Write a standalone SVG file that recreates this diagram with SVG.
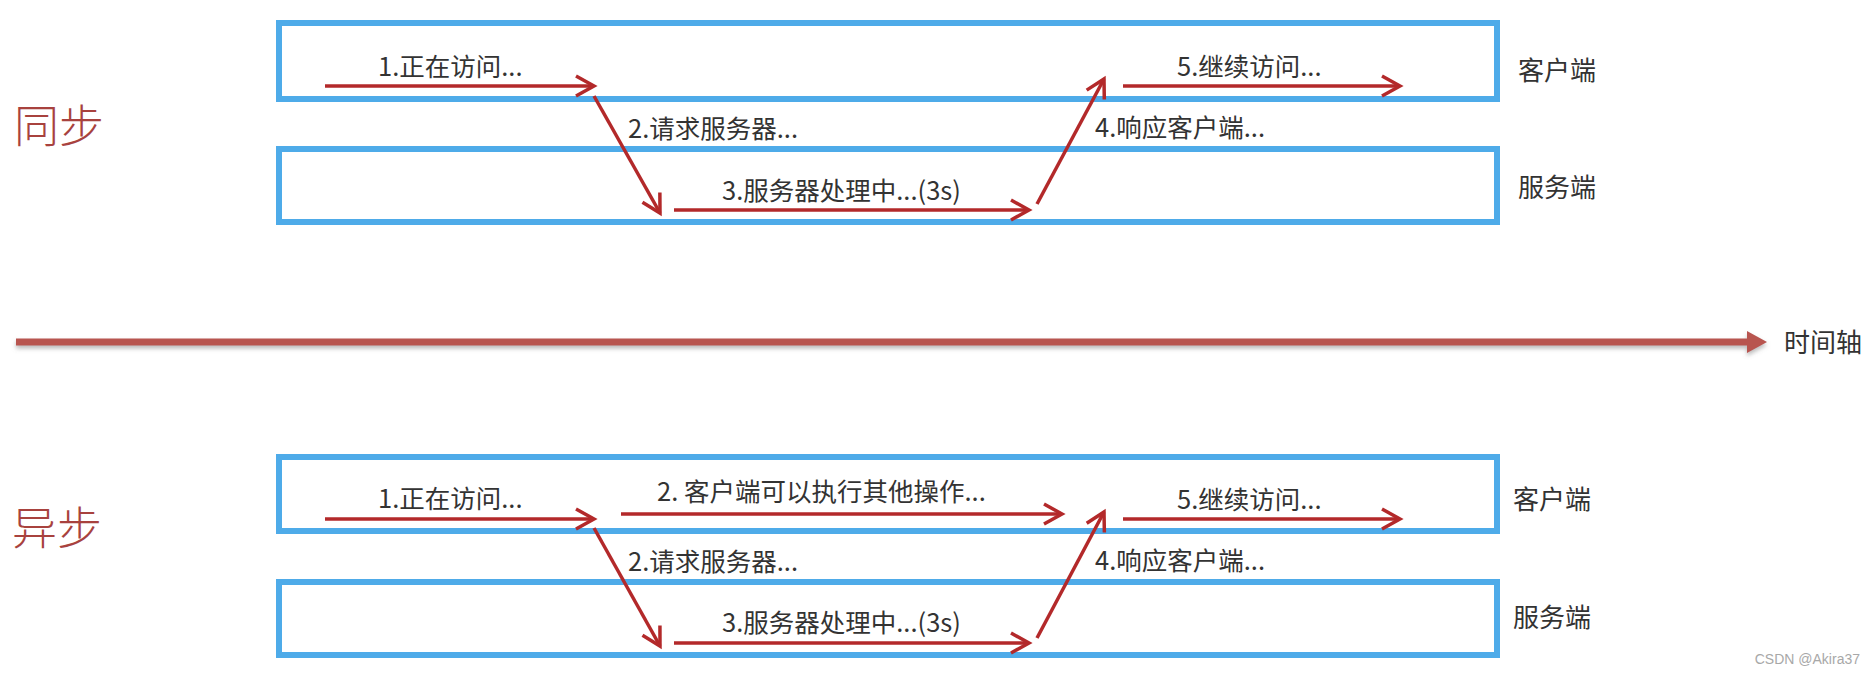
<svg xmlns="http://www.w3.org/2000/svg" width="1874" height="674" viewBox="0 0 1874 674">
<style>
.box{fill:none;stroke:#4EABE9;stroke-width:6}
.lbl{font-family:"Microsoft YaHei","Noto Sans CJK SC","Noto Sans",sans-serif;font-size:25.5px;fill:#333333;dominant-baseline:central}
.side{font-family:"Noto Sans CJK SC",sans-serif;font-size:26px;fill:#333333;dominant-baseline:central}
.title{font-family:"Noto Sans CJK SC",sans-serif;font-weight:200;font-size:45px;fill:#A8423E;dominant-baseline:central}
.arr{fill:none;stroke:#B3292A;stroke-width:3.5;marker-end:url(#chev)}
.wm{font-family:"Liberation Sans",sans-serif;font-size:14px;fill:#A8A8A8;dominant-baseline:central;text-anchor:end}
</style>
<defs>
<marker id="chev" viewBox="-22 -13 26 26" refX="0" refY="0" markerWidth="26" markerHeight="26" markerUnits="userSpaceOnUse" orient="auto">
<path d="M-18,-10 L0,0 L-18,10" fill="none" stroke="#B3292A" stroke-width="3.5" stroke-linejoin="miter"/>
</marker>
<filter id="sh" x="-5%" y="-100%" width="110%" height="300%">
<feDropShadow dx="0" dy="3" stdDeviation="2" flood-color="#777777" flood-opacity="0.5"/>
</filter>
</defs>

<text class="title" x="14" y="123">同步</text>
<text class="title" x="12" y="525">异步</text>

<g id="timeline" filter="url(#sh)">
<line x1="16" y1="342" x2="1750" y2="342" stroke="#B85450" stroke-width="7"/>
<polygon points="1747,331 1767,342 1747,353" fill="#B85450"/>
</g>
<text class="side" x="1784" y="340">时间轴</text>

<g id="sync-client"><rect class="box" x="279" y="23" width="1218" height="76"/><text class="side" x="1518" y="68">客户端</text></g>
<g id="sync-server"><rect class="box" x="279" y="149" width="1218" height="73"/><text class="side" x="1518" y="185">服务端</text></g>
<g id="async-client"><rect class="box" x="279" y="457" width="1218" height="74"/><text class="side" x="1513" y="497">客户端</text></g>
<g id="async-server"><rect class="box" x="279" y="582" width="1218" height="73"/><text class="side" x="1513" y="615">服务端</text></g>

<g id="connectors">
<line class="arr" x1="325" y1="86" x2="594" y2="86"/>
<line class="arr" x1="594" y1="96" x2="660" y2="213"/>
<line class="arr" x1="674" y1="210" x2="1029" y2="210"/>
<line class="arr" x1="1037" y1="204" x2="1104" y2="79"/>
<line class="arr" x1="1123" y1="86" x2="1400" y2="86"/>

<line class="arr" x1="325" y1="519" x2="594" y2="519"/>
<line class="arr" x1="621" y1="514" x2="1062" y2="514"/>
<line class="arr" x1="594" y1="528" x2="660" y2="646"/>
<line class="arr" x1="674" y1="643" x2="1029" y2="643"/>
<line class="arr" x1="1037" y1="638" x2="1104" y2="512"/>
<line class="arr" x1="1123" y1="519" x2="1400" y2="519"/>
</g>

<g id="labels">
<text class="lbl" x="378" y="64">1.正在访问...</text>
<text class="lbl" x="628" y="126">2.请求服务器...</text>
<text class="lbl" x="722" y="188">3.服务器处理中...(3s)</text>
<text class="lbl" x="1095" y="125">4.响应客户端...</text>
<text class="lbl" x="1177" y="64">5.继续访问...</text>

<text class="lbl" x="378" y="496">1.正在访问...</text>
<text class="lbl" x="657" y="489">2. 客户端可以执行其他操作...</text>
<text class="lbl" x="628" y="559">2.请求服务器...</text>
<text class="lbl" x="722" y="620">3.服务器处理中...(3s)</text>
<text class="lbl" x="1095" y="558">4.响应客户端...</text>
<text class="lbl" x="1177" y="497">5.继续访问...</text>
</g>

<text class="wm" x="1860" y="659">CSDN @Akira37</text>
</svg>
